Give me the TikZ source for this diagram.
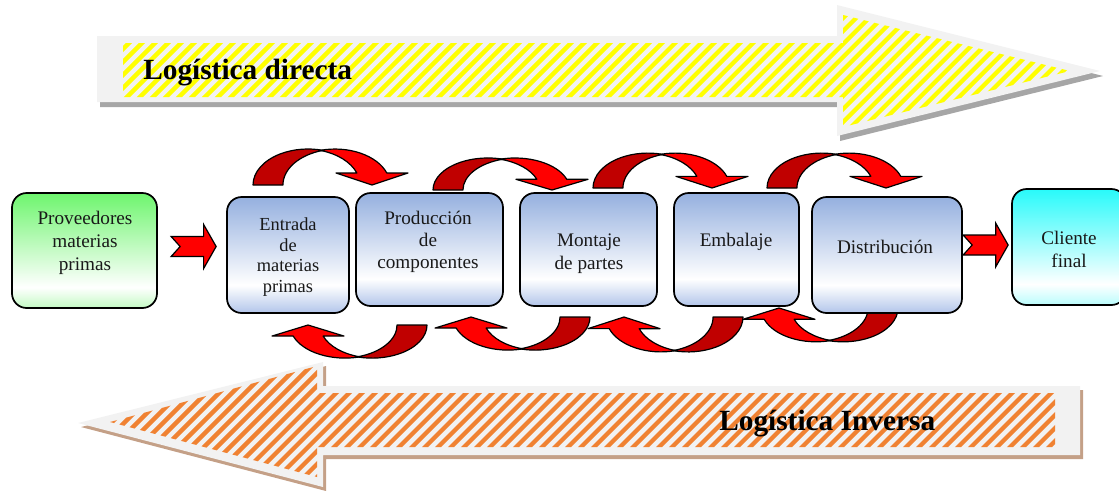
\documentclass[tikz,border=0pt]{standalone}
\usepackage{fontspec}
\setmainfont{Liberation Serif}
\usetikzlibrary{calc}

\definecolor{curldark}{RGB}{192,0,0}
\definecolor{curlbright}{RGB}{255,0,0}
\definecolor{bandgray}{RGB}{242,242,242}
\definecolor{shadowgray}{RGB}{166,166,166}
\definecolor{shadowtan}{RGB}{196,160,135}
\definecolor{stripeyellow}{RGB}{255,255,0}
\definecolor{stripeorange}{RGB}{240,130,50}
\definecolor{bluetop}{RGB}{149,176,223}
\definecolor{bluebot}{RGB}{178,197,234}
\definecolor{greentop}{RGB}{110,245,110}
\definecolor{greenbot}{RGB}{195,250,195}
\definecolor{cyantop}{RGB}{40,250,250}
\definecolor{cyanbot}{RGB}{185,252,252}

\pgfdeclareverticalshading{blueshade}{100bp}{color(0bp)=(bluebot); color(25bp)=(bluebot); color(37bp)=(white); color(75bp)=(bluetop); color(100bp)=(bluetop)}
\pgfdeclareverticalshading{greenshade}{100bp}{color(0bp)=(greenbot); color(25bp)=(greenbot); color(34bp)=(white); color(75bp)=(greentop); color(100bp)=(greentop)}
\pgfdeclareverticalshading{cyanshade}{100bp}{color(0bp)=(cyanbot); color(25bp)=(cyanbot); color(34bp)=(white); color(75bp)=(cyantop); color(100bp)=(cyantop)}

\tikzset{
  curlback/.style={fill=curldark, draw=black, line width=0.9pt, line join=round},
  curlfront/.style={fill=curlbright, draw=black, line width=0.9pt, line join=round},
  blockred/.style={fill=curlbright, draw=black, line width=0.9pt, line join=miter},
  box/.style={rounded corners=11pt, draw=black, line width=1.3pt, inner sep=0pt},
  boxtext/.style={align=center, text=black!90, inner sep=0pt,
    font=\fontsize{14.4}{17}\selectfont},
  bandtitle/.style={anchor=base west, inner sep=0pt,
    font=\fontsize{22}{26}\selectfont\bfseries},
  % curved arrow: tail foot at the origin, arching up, head pointing down on the right
  pics/curl/.style={code={
    \filldraw[curlback] (0,0)
      arc[start angle=180, end angle=285.8, x radius=55, y radius=36]
      arc[start angle=254.2, end angle=180, x radius=55, y radius=36] -- cycle;
    \filldraw[curlfront] (67,-34.6)
      arc[start angle=254.2, end angle=340.5, x radius=55, y radius=36]
      -- (155,-12) -- (119,0) -- (83,-12) -- (103.85,-12)
      arc[start angle=340.5, end angle=285.8, x radius=55, y radius=36] -- cycle;
  }},
  % notched block arrow, tip at the origin
  pics/notcharrow/.style={code={
    \filldraw[blockred] (-45,-10) -- (-12.5,-10) -- (-12.5,-22) -- (0,0)
      -- (-12.5,22) -- (-12.5,10) -- (-45,10) -- (-36,0) -- cycle;
  }}
}

\begin{document}
\begin{tikzpicture}[x=0.75pt, y=-0.75pt]
\useasboundingbox (0,0) rectangle (1119,490);

% ---- forward logistics band ----
\fill[shadowgray, shift={(3,5)}] (97,36) -- (837,36) -- (837,5) -- (1100,71)
  -- (837,136) -- (837,102) -- (97,102) -- cycle;
\fill[bandgray] (97,36) -- (837,36) -- (837,5) -- (1100,71)
  -- (837,136) -- (837,102) -- (97,102) -- cycle;
\begin{scope}
  \clip (123,43) -- (843,43) -- (843,15) -- (1070,71) -- (843,127)
    -- (843,97) -- (123,97) -- cycle;
  \foreach \i in {-20,-7,...,1100}
    \draw[stripeyellow, line width=3.2pt] (\i,140) -- (\i+140,0);
\end{scope}
\node[bandtitle] (directa) at (143,79) {Logística directa};

% ---- reverse logistics band ----
\fill[shadowtan, shift={(3,4)}] (1080,386) -- (323,386) -- (323,362) -- (78,423)
  -- (323,487) -- (323,455) -- (1080,455) -- cycle;
\fill[bandgray] (1080,386) -- (323,386) -- (323,362) -- (78,423)
  -- (323,487) -- (323,455) -- (1080,455) -- cycle;
\begin{scope}
  \clip (1055,393) -- (317,393) -- (317,366) -- (110,422) -- (317,477)
    -- (317,447) -- (1055,447) -- cycle;
  \foreach \i in {-60,-47,...,1100}
    \draw[stripeorange, line width=3.2pt] (\i,490) -- (\i+140,350);
\end{scope}
\node[bandtitle] (inversa) at (719,430) {Logística Inversa};

% ---- curved arrows between the stages ----
\pic at (253,185) {curl};
\pic[yscale=0.89] at (433,190) {curl};
\pic[yscale=0.97] at (593,188) {curl};
\pic[yscale=0.97] at (767,188) {curl};
\pic[rotate=180, yscale=0.92] at (427,325) {curl};
\pic[rotate=180, yscale=0.92] at (590,317) {curl};
\pic[rotate=180, yscale=0.97] at (743,317) {curl};
\pic[rotate=180, yscale=0.94] at (898,308) {curl};

% ---- stage boxes ----
\node[box, shading=greenshade, minimum width=145*0.75pt, minimum height=115*0.75pt]
  (prov) at (84.5,250.5) {};
\node[box, shading=blueshade, minimum width=122*0.75pt, minimum height=116*0.75pt]
  (entrada) at (288,255) {};
\node[box, shading=blueshade, minimum width=147*0.75pt, minimum height=113*0.75pt]
  (produccion) at (429.5,249.5) {};
\node[box, shading=blueshade, minimum width=137*0.75pt, minimum height=113*0.75pt]
  (montaje) at (588.5,249.5) {};
\node[box, shading=blueshade, minimum width=125*0.75pt, minimum height=113*0.75pt]
  (embalaje) at (736.5,249.5) {};
\node[box, shading=blueshade, minimum width=150*0.75pt, minimum height=116*0.75pt]
  (distrib) at (887,255) {};
\node[box, shading=cyanshade, minimum width=114*0.75pt, minimum height=116*0.75pt]
  (cliente) at (1069,247) {};

% ---- stage labels ----
\node[boxtext] (tprov) at (85,243) {Proveedores\\materias\\primas};
\node[boxtext, font=\fontsize{13.8}{15.4}\selectfont] (tentrada) at (288,257)
  {Entrada\\de\\materias\\primas};
\node[boxtext, font=\fontsize{14.4}{16.5}\selectfont] (tproduccion) at (428,242)
  {Producción\\de\\componentes};
\node[boxtext] (tmontaje) at (589,253.5) {Montaje\\de partes};
\node[boxtext] (tembalaje) at (736,242) {Embalaje};
\node[boxtext] (tdistrib) at (885,247) {Distribución};
\node[boxtext] (tcliente) at (1069,249.5) {Cliente\\final};

% ---- inflow and outflow arrows ----
\pic at ($(entrada.west)+(-10,-8.5)$) {notcharrow};
\pic at ($(cliente.west)+(-3,-2)$) {notcharrow};

\end{tikzpicture}
\end{document}
